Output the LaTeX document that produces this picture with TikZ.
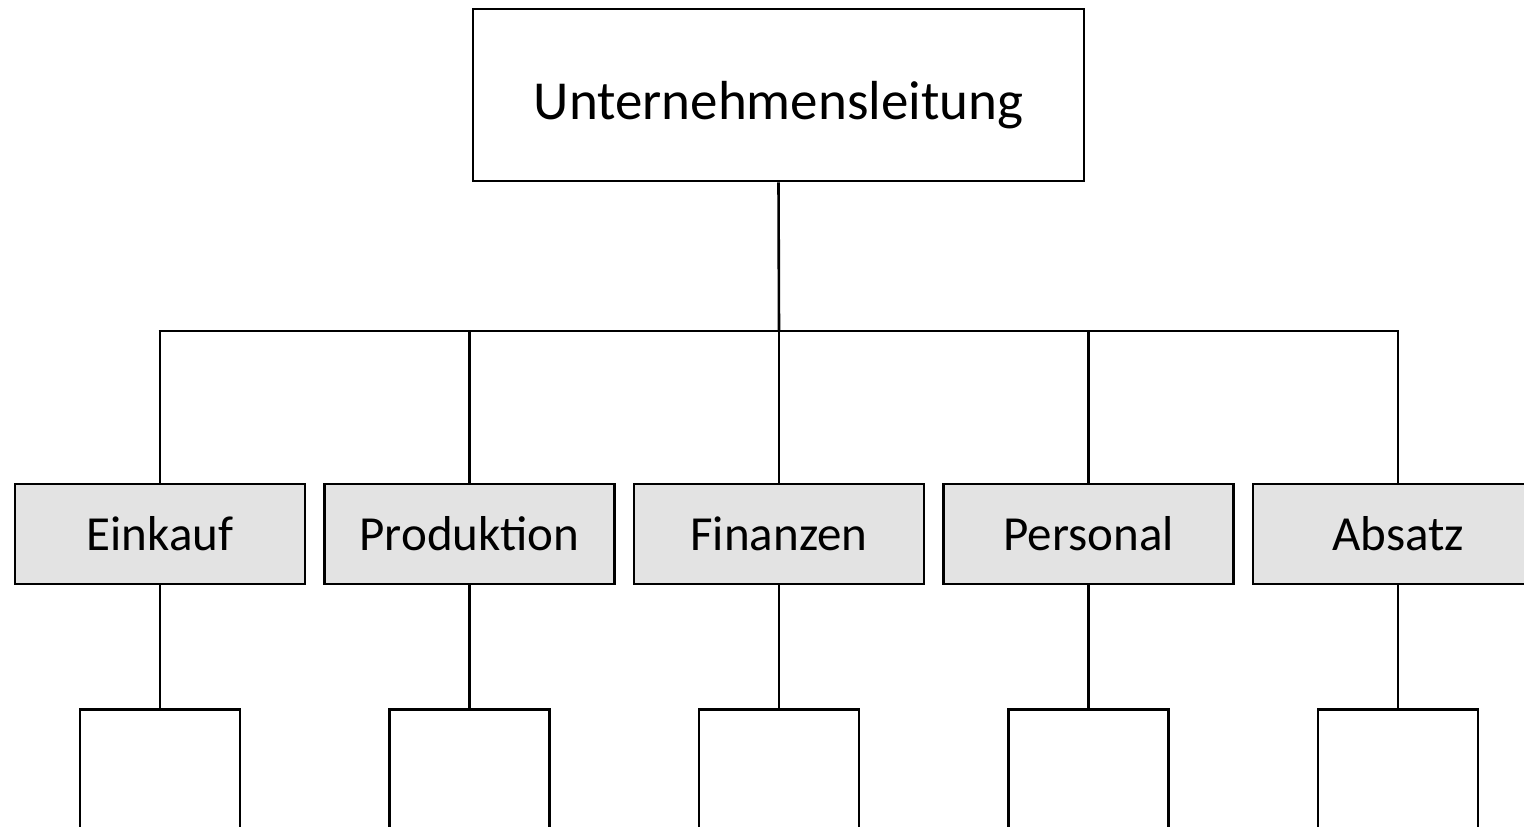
\documentclass[tikz,border=0pt]{standalone}
\usepackage{fontspec}
\setmainfont{Carlito}
\definecolor{boxgray}{HTML}{E3E3E3}
\begin{document}
\begin{tikzpicture}[x=1pt,y=-1pt,
  topbox/.style={draw,line width=2.6pt,minimum width=611pt,minimum height=172pt,inner sep=0pt,font=\fontsize{55}{57}\selectfont},
  deptbox/.style={draw,line width=2.6pt,fill=boxgray,minimum width=290pt,minimum height=100pt,inner sep=0pt,font=\fontsize{49}{51}\selectfont},
  subbox/.style={draw,line width=2.6pt,minimum width=160pt,minimum height=200pt,inner sep=0pt},
  conn/.style={line width=2.6pt}]
\useasboundingbox (0,0) rectangle (1524,827);
\clip (0,0) rectangle (1524,827);
\node[topbox] (top) at (778.5,95) {\raisebox{-24pt}[0pt][0pt]{Unternehmensleitung}};
\foreach \n/\x/\t in {a/160/Einkauf,b/469.5/Produktion,c/779/Finanzen,d/1088.5/Personal,e/1398/Absatz}{
  \node[deptbox] (\n) at (\x,534) {\t};
  \node[subbox,anchor=north] (s\n) at (\x,708) {};
  \coordinate (j\n) at (\x,331);
  \draw[conn] (\n.south) -- (s\n.north);
  \draw[conn] (j\n) -- (\n.north);
}
\coordinate (jm) at (779,331);
\draw[conn] (top.south) -- (jm);
\draw[conn] ([xshift=-1.3pt]ja) -- ([xshift=1.3pt]je);
\end{tikzpicture}
\end{document}
